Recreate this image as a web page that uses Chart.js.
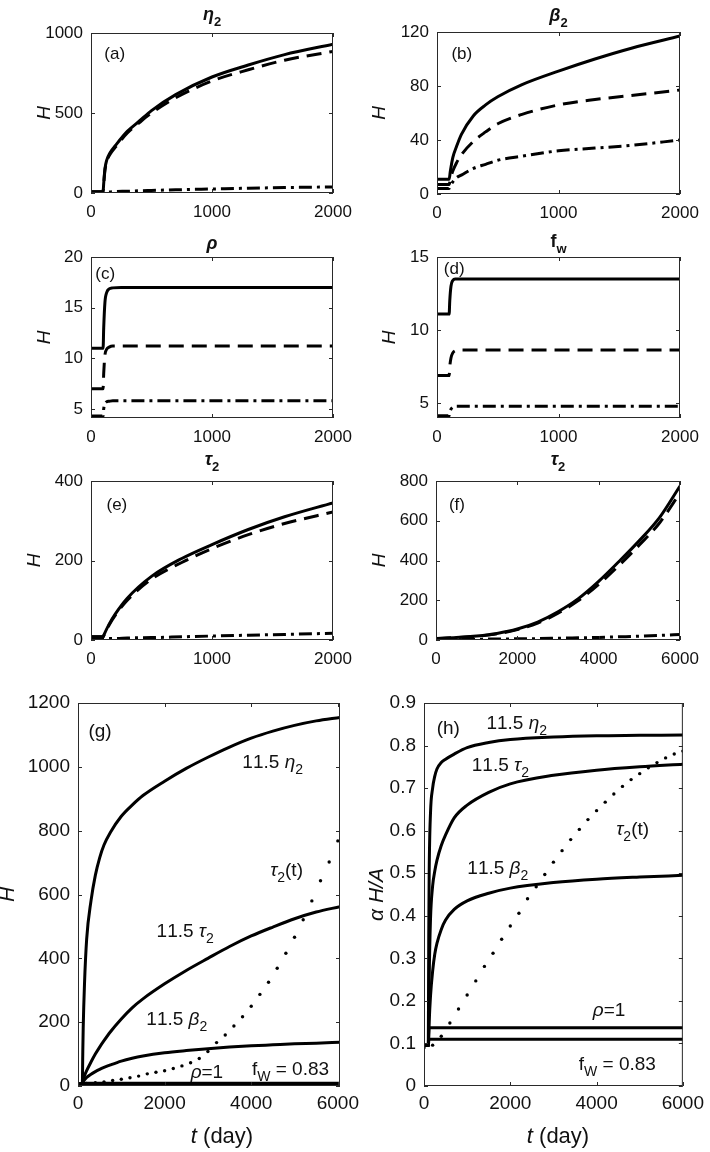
<!DOCTYPE html>
<html>
<head>
<meta charset="utf-8">
<script src="https://cdn.jsdelivr.net/npm/chart.js@4.4.1/dist/chart.umd.min.js"></script>
<style>
  body { margin: 0; background: #fff; width: 710px; height: 1152px; position: relative; overflow: hidden; }
  canvas { position: absolute; }
</style>
</head>
<body>
<canvas id="pa"></canvas><canvas id="pb"></canvas>
<canvas id="pc"></canvas><canvas id="pd"></canvas>
<canvas id="pe"></canvas><canvas id="pf"></canvas>
<canvas id="pg"></canvas><canvas id="ph"></canvas>
<script>
// ---- tick values ----
const xTicks2k = [0, 1000, 2000];
const xTicks6k = [0, 2000, 4000, 6000];
const aYTicks = [0, 500, 1000];
const bYTicks = [0, 40, 80, 120];
const cYTicks = [5, 10, 15, 20];
const dYTicks = [5, 10, 15];
const eYTicks = [0, 200, 400];
const fYTicks = [0, 200, 400, 600, 800];
const gYTicks = [0, 200, 400, 600, 800, 1000, 1200];
const hYTicks = [0, 0.1, 0.2, 0.3, 0.4, 0.5, 0.6, 0.7, 0.8, 0.9];

// ---- (a) eta_2 ----
const tA = [0, 100, 105, 115, 130, 160, 200, 300, 400, 500, 700, 1000, 1300, 1600, 2000];
const aSolid = [8, 8, 60, 150, 205, 255, 295, 385, 450, 515, 615, 725, 800, 865, 930];
const aDash = [8, 8, 55, 140, 195, 245, 285, 375, 440, 500, 595, 700, 770, 830, 885];
const aDashDot = [3, 3, 4, 5, 6, 7, 9, 11, 14, 16, 20, 25, 30, 34, 38];

// ---- (b) beta_2 ----
const tB = [0, 100, 110, 130, 160, 200, 300, 400, 500, 700, 1000, 1300, 1600, 2000];
const bSolid = [11, 11, 17, 27, 35, 44, 58, 66, 72, 81, 91, 100, 108, 117];
const bDash = [7, 7, 11, 17, 23, 29, 39, 46, 52, 59, 66, 70, 73, 77];
const bDashDot = [4, 4, 6, 9, 12, 14, 19, 22, 25, 28, 32, 34, 36, 40];

// ---- (c) rho ----
const tC = [0, 100, 105, 115, 130, 150, 180, 250, 2000];
const cSolid = [11, 11, 13, 15.5, 16.5, 16.85, 16.95, 17, 17];
const cDash = [7, 7, 8.5, 10.3, 10.9, 11.1, 11.2, 11.2, 11.2];
const cDashDot = [4.3, 4.3, 5, 5.5, 5.7, 5.75, 5.8, 5.8, 5.8];

// ---- (d) f_w ----
const tD = [0, 100, 105, 115, 130, 150, 180, 250, 2000];
const dSolid = [11.1, 11.1, 12, 13, 13.4, 13.5, 13.5, 13.5, 13.5];
const dDash = [6.9, 6.9, 7.5, 8.1, 8.45, 8.6, 8.65, 8.65, 8.65];
const dDashDot = [4.15, 4.15, 4.4, 4.6, 4.75, 4.8, 4.8, 4.8, 4.8];

// ---- (e) tau_2 ----
const tE = [0, 100, 110, 150, 200, 300, 500, 750, 1000, 1300, 1600, 2000];
const eSolid = [8, 8, 15, 40, 65, 105, 160, 205, 240, 278, 310, 345];
const eDash = [8, 8, 14, 38, 62, 100, 153, 195, 230, 265, 293, 322];
const eDashDot = [3, 3, 3, 4, 4, 5, 6, 8, 10, 12, 14, 17];

// ---- (f) tau_2, long run ----
const tF = [0, 500, 1000, 1500, 2000, 2500, 3000, 3500, 4000, 4500, 5000, 5500, 6000];
const fSolid = [8, 12, 20, 33, 55, 90, 142, 208, 295, 395, 500, 617, 775];
const fDash = [8, 12, 19, 31, 52, 85, 135, 198, 280, 375, 478, 590, 740];
const fDashDot = [2, 3, 4, 5, 6, 7, 9, 11, 13, 16, 19, 23, 28];

// ---- (g) H for the 11.5x cases ----
const tG = [0, 100, 110, 120, 150, 200, 300, 400, 500, 600, 750, 1000, 1250, 1500, 2000, 2500, 3000, 3500, 4000, 4500, 5000, 5500, 6050];
const gEta = [6, 6, 100, 180, 320, 460, 580, 660, 715, 755, 795, 845, 880, 910, 955, 995, 1030, 1062, 1090, 1112, 1130, 1144, 1155];
const gTau = [6, 6, 14, 20, 32, 48, 75, 100, 122, 142, 170, 210, 245, 273, 320, 362, 400, 437, 470, 498, 524, 545, 562];
const gBeta = [6, 6, 10, 13, 19, 27, 37, 45, 52, 58, 66, 78, 87, 94, 104, 111, 117, 122, 126, 129, 132, 134, 137];
const tStepG = [0, 100, 115, 6050];
const gRho = [6, 6, 9, 9];
const gFw = [6, 6, 7.5, 7.5];
const tDots = [0, 200, 400, 600, 800, 1000, 1200, 1400, 1600, 1800, 2000, 2200, 2400, 2600, 2800, 3000,
  3200, 3400, 3600, 3800, 4000, 4200, 4400, 4600, 4800, 5000, 5200, 5400, 5600, 5800, 6000];
const gDots = [6, 8, 10, 13, 17, 21, 26, 31, 38, 43, 48, 55, 63, 73, 86, 108,
  136, 160, 188, 217, 250, 287, 325, 369, 416, 466, 521, 580, 643, 702, 768];

// ---- (h) alpha H / A ----
const tH = [0, 100, 110, 120, 150, 200, 250, 300, 400, 500, 700, 1000, 1500, 2000, 3000, 4000, 5000, 6000];
const hEta = [0.095, 0.095, 0.35, 0.5, 0.64, 0.7, 0.728, 0.745, 0.76, 0.768, 0.78, 0.795, 0.807, 0.814, 0.82, 0.823, 0.824, 0.825];
const hTau = [0.095, 0.095, 0.16, 0.25, 0.39, 0.47, 0.505, 0.53, 0.565, 0.59, 0.63, 0.66, 0.69, 0.71, 0.73, 0.742, 0.75, 0.756];
const hBeta = [0.095, 0.095, 0.12, 0.15, 0.21, 0.27, 0.31, 0.335, 0.368, 0.39, 0.415, 0.435, 0.453, 0.465, 0.478, 0.486, 0.491, 0.495];
const tStepH = [0, 100, 115, 6000];
const hRho = [0.095, 0.095, 0.137, 0.137];
const hFw = [0.095, 0.095, 0.11, 0.11];
const hDots = [0.09, 0.096, 0.117, 0.148, 0.181, 0.214, 0.247, 0.281, 0.312, 0.345, 0.376, 0.406, 0.44, 0.468, 0.497, 0.526,
  0.553, 0.579, 0.603, 0.626, 0.647, 0.667, 0.686, 0.704, 0.72, 0.734, 0.748, 0.76, 0.771, 0.78, 0.787];

const FONT = "'Liberation Sans', Arial, Helvetica, sans-serif";
const INK = "#111";
const AXIS = "#2a2a2a";
const DASH = { solid: [], dash: [15, 8], dashdot: [13, 5, 3, 5] };

// panels: canvas box, plot box [l, t, r, b] in page pixels
const panels = [
  { id: "pa", cx: 0, cy: 0, cw: 368, ch: 232, plot: [91, 33, 333, 193], xr: [0, 2000], xt: xTicks2k, yr: [0, 1000], yt: aYTicks,
    fs: 17, title: "*η*_2", titleY: 20, yLabel: "*H*", yLabelX: 43, tag: ["(a)", 0.098, 0.124], notes: [],
    series: [[tA, aSolid, "solid"], [tA, aDash, "dash"], [tA, aDashDot, "dashdot"]] },
  { id: "pb", cx: 345, cy: 0, cw: 365, ch: 232, plot: [437, 32, 680, 194], xr: [0, 2000], xt: xTicks2k, yr: [0, 120], yt: bYTicks,
    fs: 17, title: "*β*_2", titleY: 21, yLabel: "*H*", yLabelX: 378, tag: ["(b)", 0.102, 0.13], notes: [],
    series: [[tB, bSolid, "solid"], [tB, bDash, "dash"], [tB, bDashDot, "dashdot"]] },
  { id: "pc", cx: 0, cy: 226, cw: 368, ch: 222, plot: [91, 257, 333, 418], xr: [0, 2000], xt: xTicks2k, yr: [4.1, 20], yt: cYTicks,
    fs: 17, title: "*ρ*", titleY: 249, yLabel: "*H*", yLabelX: 43, tag: ["(c)", 0.059, 0.1], notes: [],
    series: [[tC, cSolid, "solid"], [tC, cDash, "dash"], [tC, cDashDot, "dashdot"]] },
  { id: "pd", cx: 345, cy: 226, cw: 365, ch: 222, plot: [437, 257, 680, 418], xr: [0, 2000], xt: xTicks2k, yr: [4, 15], yt: dYTicks,
    fs: 17, title: "f_w", titleY: 247, yLabel: "*H*", yLabelX: 388, tag: ["(d)", 0.071, 0.068], notes: [],
    series: [[tD, dSolid, "solid"], [tD, dDash, "dash"], [tD, dDashDot, "dashdot"]] },
  { id: "pe", cx: 0, cy: 448, cw: 368, ch: 220, plot: [91, 481, 333, 640], xr: [0, 2000], xt: xTicks2k, yr: [0, 400], yt: eYTicks,
    fs: 17, title: "*τ*_2", titleY: 465, yLabel: "*H*", yLabelX: 33, tag: ["(e)", 0.107, 0.142], notes: [],
    series: [[tE, eSolid, "solid"], [tE, eDash, "dash"], [tE, eDashDot, "dashdot"]] },
  { id: "pf", cx: 345, cy: 448, cw: 365, ch: 220, plot: [436, 481, 680, 640], xr: [0, 6000], xt: xTicks6k, yr: [0, 800], yt: fYTicks,
    fs: 17, title: "*τ*_2", titleY: 465, yLabel: "*H*", yLabelX: 378, tag: ["(f)", 0.086, 0.142], notes: [],
    series: [[tF, fSolid, "solid"], [tF, fDash, "dash"], [tF, fDashDot, "dashdot"]] },
  { id: "pg", cx: 0, cy: 668, cw: 368, ch: 484, plot: [78, 703, 340, 1086], xr: [0, 6050], xt: xTicks6k, yr: [0, 1200], yt: gYTicks,
    fs: 19, yLabel: "*H*", yLabelX: 7, xLabel: ["*t* (day)", 222, 1135], tag: ["(g)", 0.084, 0.07],
    notes: [["11.5 *η*_2", 0.743, 0.151], ["*τ*_2(t)", 0.796, 0.434], ["11.5 *τ*_2", 0.409, 0.593],
            ["11.5 *β*_2", 0.377, 0.823], ["*ρ*=1", 0.492, 0.962], ["f_W = 0.83", 0.811, 0.953]],
    series: [[tG, gEta, "solid"], [tG, gTau, "solid"], [tG, gBeta, "solid"],
             [tStepG, gRho, "solid"], [tStepG, gFw, "solid"], [tDots, gDots, "dot"]] },
  { id: "ph", cx: 345, cy: 668, cw: 365, ch: 484, plot: [424, 703, 688, 1086], xr: [0, 6000], xt: xTicks6k, yr: [0, 0.9], yt: hYTicks,
    fs: 19, yLabel: "*α H/A*", yLabelX: 376, xLabel: ["*t* (day)", 558, 1135], tag: ["(h)", 0.094, 0.064],
    notes: [["11.5 *η*_2", 0.358, 0.05], ["11.5 *τ*_2", 0.295, 0.16], ["*τ*_2(t)", 0.806, 0.327],
            ["11.5 *β*_2", 0.285, 0.428], ["*ρ*=1", 0.715, 0.799], ["f_W = 0.83", 0.747, 0.94]],
    series: [[tH, hEta, "solid"], [tH, hTau, "solid"], [tH, hBeta, "solid"],
             [tStepH, hRho, "solid"], [tStepH, hFw, "solid"], [tDots, hDots, "dot"]] },
];

// "*...*" toggles italic, "_x" makes x a subscript
function richParts(str) {
  const parts = [];
  let it = false;
  for (let i = 0; i < str.length; i++) {
    const c = str[i];
    if (c === "*") { it = !it; continue; }
    if (c === "_") { parts.push({ s: str[++i], it, sub: true }); continue; }
    parts.push({ s: c, it, sub: false });
  }
  return parts;
}

function drawRich(ctx, str, x, y, size, bold) {
  const parts = richParts(str);
  const fontOf = (p) => `${p.it ? "italic " : ""}${bold ? "bold " : ""}${p.sub ? Math.round(size * 0.72) : size}px ${FONT}`;
  let w = 0;
  parts.forEach((p) => { ctx.font = fontOf(p); p.w = ctx.measureText(p.s).width; w += p.w; });
  let px = x - w / 2;
  ctx.textAlign = "left";
  ctx.textBaseline = "alphabetic";
  parts.forEach((p) => {
    ctx.font = fontOf(p);
    ctx.fillText(p.s, px, y + (p.sub ? size * 0.32 : 0));
    px += p.w;
  });
}

function makeDeco(P) {
  return {
    id: "deco",
    afterDraw(chart) {
      const { ctx, chartArea: a, scales } = chart;
      const x = scales.x, y = scales.y;
      ctx.save();
      // box and inward ticks on all sides
      ctx.strokeStyle = AXIS;
      ctx.lineWidth = 1;
      ctx.strokeRect(a.left + 0.5, a.top + 0.5, a.right - a.left - 1, a.bottom - a.top - 1);
      const tl = 4;
      ctx.beginPath();
      x.ticks.forEach((tk) => {
        const px = Math.round(x.getPixelForValue(tk.value)) + 0.5;
        ctx.moveTo(px, a.bottom); ctx.lineTo(px, a.bottom - tl);
        ctx.moveTo(px, a.top); ctx.lineTo(px, a.top + tl);
      });
      y.ticks.forEach((tk) => {
        const py = Math.round(y.getPixelForValue(tk.value)) + 0.5;
        ctx.moveTo(a.left, py); ctx.lineTo(a.left + tl, py);
        ctx.moveTo(a.right, py); ctx.lineTo(a.right - tl, py);
      });
      ctx.stroke();

      ctx.fillStyle = INK;
      const midX = (a.left + a.right) / 2;
      if (P.title) drawRich(ctx, P.title, midX, P.titleY - P.cy, 18, true);

      // y label, rotated
      ctx.save();
      ctx.translate(P.yLabelX - P.cx, (a.top + a.bottom) / 2);
      ctx.rotate(-Math.PI / 2);
      drawRich(ctx, P.yLabel, 0, 7, P.fs + 2, false);
      ctx.restore();

      if (P.xLabel) drawRich(ctx, P.xLabel[0], P.xLabel[1] - P.cx, P.xLabel[2] - P.cy + 8, 22, false);

      const noteSize = P.fs === 19 ? 19 : 17;
      const at = (fx, fy) => [a.left + fx * (a.right - a.left), a.top + fy * (a.bottom - a.top) + noteSize * 0.36];
      const [tx, ty] = at(P.tag[1], P.tag[2]);
      drawRich(ctx, P.tag[0], tx, ty, noteSize, false);
      P.notes.forEach((n) => {
        const [nx, ny] = at(n[1], n[2]);
        drawRich(ctx, n[0], nx, ny, noteSize, false);
      });
      ctx.restore();
    },
  };
}

panels.forEach((P) => {
  const cv = document.getElementById(P.id);
  cv.width = P.cw;
  cv.height = P.ch;
  cv.style.left = P.cx + "px";
  cv.style.top = P.cy + "px";
  const [l, t, r, b] = P.plot;

  const datasets = P.series.map(([ts, vs, style]) => ({
    data: ts.map((tv, i) => ({ x: tv, y: vs[i] })),
    borderColor: "#000",
    backgroundColor: "#000",
    borderWidth: 3,
    borderDash: style === "dot" ? [] : DASH[style],
    showLine: style !== "dot",
    pointRadius: style === "dot" ? 1.7 : 0,
    pointBorderWidth: 0,
    cubicInterpolationMode: "monotone",
    fill: false,
  }));

  const tickFont = { family: FONT, size: P.fs };
  new Chart(cv, {
    type: "line",
    data: { datasets },
    options: {
      responsive: false,
      animation: false,
      events: [],
      layout: { padding: { left: 0, top: t - P.cy, right: P.cx + P.cw - r, bottom: 0 } },
      plugins: { legend: { display: false }, title: { display: false }, tooltip: { enabled: false } },
      scales: {
        x: {
          type: "linear",
          min: P.xr[0],
          max: P.xr[1],
          grid: { display: false, drawTicks: false },
          border: { display: false },
          afterBuildTicks: (s) => { s.ticks = P.xt.map((v) => ({ value: v })); },
          afterFit: (s) => { s.height = P.cy + P.ch - b; },
          ticks: { font: tickFont, color: INK, padding: P.fs === 19 ? 6 : 9, autoSkip: false, maxRotation: 0,
                   callback: (v) => String(v) },
        },
        y: {
          type: "linear",
          min: P.yr[0],
          max: P.yr[1],
          grid: { display: false, drawTicks: false },
          border: { display: false },
          afterBuildTicks: (s) => { s.ticks = P.yt.map((v) => ({ value: v })); },
          afterFit: (s) => { s.width = l - P.cx; },
          ticks: { font: tickFont, color: INK, padding: 8, autoSkip: false, callback: (v) => String(v) },
        },
      },
    },
    plugins: [makeDeco(P)],
  });
});
</script>
</body>
</html>
